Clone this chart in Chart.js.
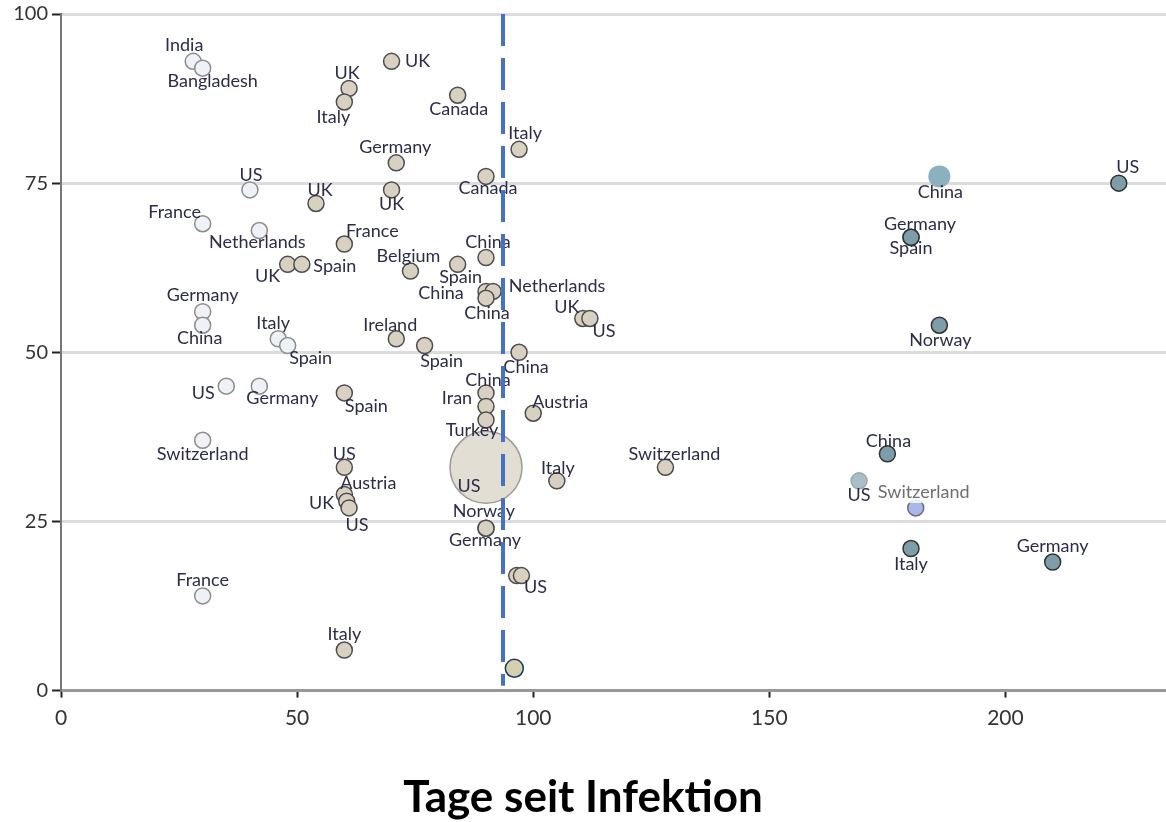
<!DOCTYPE html>
<html>
<head>
<meta charset="utf-8">
<script src="https://cdn.jsdelivr.net/npm/chart.js@4"></script>
<style>
  html, body { margin: 0; padding: 0; background: #fff; }
</style>
</head>
<body>
<canvas id="chart" width="1166" height="822"></canvas>
<script>
// early countries (light circles)
const earlyCountries = ['India', 'Bangladesh', 'US', 'France', 'Netherlands', 'Germany', 'China', 'Italy', 'Spain', 'US', 'Germany', 'Switzerland', 'France']
const earlyDays = [28, 30, 40, 30, 42, 30, 30, 46, 48, 35, 42, 30, 30]
const earlyValues = [93, 92, 74, 69, 68, 56, 54, 52, 51, 45, 45, 37, 14]

// middle group (beige circles)
const midCountries = ['UK', 'UK', 'Italy', 'Canada', 'Italy', 'Germany', 'Canada', 'UK', 'UK', 'France',
  'UK', 'Spain', 'Belgium', 'China', 'Spain', 'China', 'Netherlands', 'China', 'UK', 'US',
  'Ireland', 'Spain', 'China', 'Spain', 'China', 'Iran', 'Turkey', 'Austria', 'Italy', 'Switzerland',
  'US', 'Austria', 'UK', 'US', 'Norway', 'Germany', '', 'US', 'Italy']
const midDays = [70, 61, 60, 84, 97, 71, 90, 70, 54, 60,
  48, 51, 74, 90, 84, 90, 91.5, 90, 110.5, 112,
  71, 77, 97, 60, 90, 90, 90, 100, 105, 128,
  60, 60, 60.5, 61, 90, 90, 96.5, 97.5, 60]
const midValues = [93, 89, 87, 88, 80, 78, 76, 74, 72, 66,
  63, 63, 62, 64, 63, 59, 59, 58, 55, 55,
  52, 51, 50, 44, 44, 42, 40, 41, 31, 33,
  33, 29, 28, 27, 24, 24, 17, 17, 6]

// the big US bubble and the highlighted point
const bigCountries = ['US']
const bigDays = [90]
const bigValues = [33]
const markDays = [96]
const markValues = [3.3]

// late group (blue-grey circles)
const lateCountries = ['US', 'Germany', 'Spain', 'Norway', 'China', 'Italy', 'Germany']
const lateDays = [224, 180, 180, 186, 175, 180, 210]
const lateValues = [75, 67, 67, 54, 35, 21, 19]
const fadedCountries = ['China', 'US']
const fadedDays = [186, 169]
const fadedValues = [76, 31]
const swissCountries = ['Switzerland']
const swissDays = [181]
const swissValues = [27]

// dashed reference line
const cutoffDays = [93.6, 93.6]
const cutoffValues = [100, 0.7]

const xTicks = [0, 50, 100, 150, 200]

// label offsets (pixels, text centre relative to point)
const earlyDx = [-9, 10, 1, -28, -2, 0, -3, -5, 23, -23, 23, 0, 0]
const earlyDy = [-16, 13, -15, -12, 12, -17, 13, -16, 13, 7, 12, 14, -16]
const midDx = [26, -2, -11, 1, 6, -1, 2, 0, 4, 28,
  -20, 33, -2, 2, 3, -45, 64, 1, -16, 14,
  -6, 17, 7, 22, 2, -29, -14, 27, 1, 9,
  0, 24, -25, 8, -2, -1, 0, 14, 0]
const midDy = [0, -15, 15, 14, -16, -16, 12, 14, -13, -13,
  12, 2, -15, -15, 13, 2, -5, 15, -11, 13,
  -14, 16, 15, 13, -13, -8, 10, -11, -13, -13,
  -13, -11, 2, 17, -17, 12, 0, 12, -16]
const lateDx = [9, 9, 0, 1, 1, 0, 0]
const lateDy = [-16, -13, 11, 15, -13, 16, -16]

function pts(xs, ys) {
    return xs.map((x, i) => ({ x: x, y: ys[i] }))
}

const labelFont = '18px Lato'

//draws the country names just before the dashed line goes on top
const labelPlugin = {
    id: 'countryLabels',
    beforeDatasetDraw(chart, args) {
        if (chart.data.datasets[args.index].id !== 'cutoff') return
        let ctx = chart.ctx
        ctx.save()
        ctx.font = labelFont
        ctx.textAlign = 'center'
        ctx.textBaseline = 'middle'
        chart.data.datasets.forEach((ds, i) => {
            if (!ds.labels) return
            let meta = chart.getDatasetMeta(i)
            meta.data.forEach((el, j) => {
                let text = ds.labels[j]
                if (!text) return
                let tx = el.x + ds.labelDx[j]
                let ty = el.y + ds.labelDy[j]
                if (ds.boxed) {
                    let w = ctx.measureText(text).width
                    ctx.fillStyle = 'rgba(255,255,255,0.85)'
                    ctx.fillRect(tx - w / 2 - 3, ty - 11, w + 6, 22)
                    ctx.fillStyle = '#6e6e6e'
                } else {
                    ctx.fillStyle = '#2c2c4a'
                }
                ctx.fillText(text, tx, ty)
            })
        })
        ctx.restore()
    }
}

let chart = new Chart(document.getElementById('chart'), {
    type: 'scatter',
    data: {
        datasets: [
            {
                id: 'cutoff', type: 'line', data: pts(cutoffDays, cutoffValues),
                borderColor: '#4472c4', borderWidth: 4, borderDash: [32, 12],
                pointRadius: 0, order: 0
            },
            {
                data: pts(markDays, markValues), backgroundColor: '#d5d1ae',
                borderColor: '#1c3570', borderWidth: 1.5, pointRadius: 9, order: 1
            },
            {
                data: pts(swissDays, swissValues), backgroundColor: '#a9b8e6',
                borderColor: '#6a6a80', borderWidth: 1.5, pointRadius: 8, order: 2,
                labels: swissCountries, labelDx: [8], labelDy: [-16], boxed: true
            },
            {
                data: pts(lateDays, lateValues), backgroundColor: '#7d9ea9',
                borderColor: '#333', borderWidth: 1.5, pointRadius: 8, order: 3,
                labels: lateCountries, labelDx: lateDx, labelDy: lateDy
            },
            {
                data: pts(fadedDays, fadedValues), backgroundColor: ['#8db0be', '#a8bec8'],
                borderColor: ['rgba(0,0,0,0)', '#a0a8ac'], borderWidth: 1.5, pointRadius: [11, 8], order: 4,
                labels: fadedCountries, labelDx: [1, 0], labelDy: [16, 14]
            },
            {
                data: pts(midDays, midValues), backgroundColor: '#d8d1c2',
                borderColor: '#4d4d4d', borderWidth: 1.5, pointRadius: 8, order: 5,
                labels: midCountries, labelDx: midDx, labelDy: midDy
            },
            {
                data: pts(bigDays, bigValues), backgroundColor: '#e3ded4',
                borderColor: '#a09a90', borderWidth: 1.5, pointRadius: 36, order: 6,
                labels: bigCountries, labelDx: [-17], labelDy: [19]
            },
            {
                data: pts(earlyDays, earlyValues), backgroundColor: '#eef2f7',
                borderColor: '#8c8c8c', borderWidth: 1.5, pointRadius: 8, order: 7,
                labels: earlyCountries, labelDx: earlyDx, labelDy: earlyDy
            }
        ]
    },
    options: {
        responsive: false,
        animation: false,
        layout: { autoPadding: false, padding: { top: 13, right: 0, left: 0, bottom: 0 } },
        plugins: {
            legend: { display: false },
            tooltip: { enabled: false },
            title: {
                display: true, position: 'bottom', text: 'Tage seit Infektion', color: '#000',
                font: { family: 'Lato', size: 44, weight: 'bold', lineHeight: 1.1 },
                padding: { top: 0, bottom: 0 }
            }
        },
        elements: { point: { hoverRadius: 8 } },
        scales: {
            x: {
                type: 'linear', min: 0, max: 234,
                afterBuildTicks: (s) => { s.ticks = xTicks.map(v => ({ value: v })) },
                afterFit: (s) => { s.height = 83 },
                ticks: { color: '#333', padding: 8, font: { family: 'Lato', size: 21 } },
                grid: { drawOnChartArea: false, tickLength: 7, tickColor: '#222', tickWidth: 2 },
                border: { color: '#999', width: 3 }
            },
            y: {
                min: 0, max: 100,
                ticks: { stepSize: 25, color: '#333', padding: 4, font: { family: 'Lato', size: 20, lineHeight: 1 } },
                afterFit: (s) => { s.width = 61 },
                grid: { color: '#dcdcdc', lineWidth: 3, tickLength: 9, tickColor: '#222', tickWidth: 2 },
                border: { color: '#777', width: 2 }
            }
        }
    },
    plugins: [labelPlugin]
})
</script>
</body>
</html>
